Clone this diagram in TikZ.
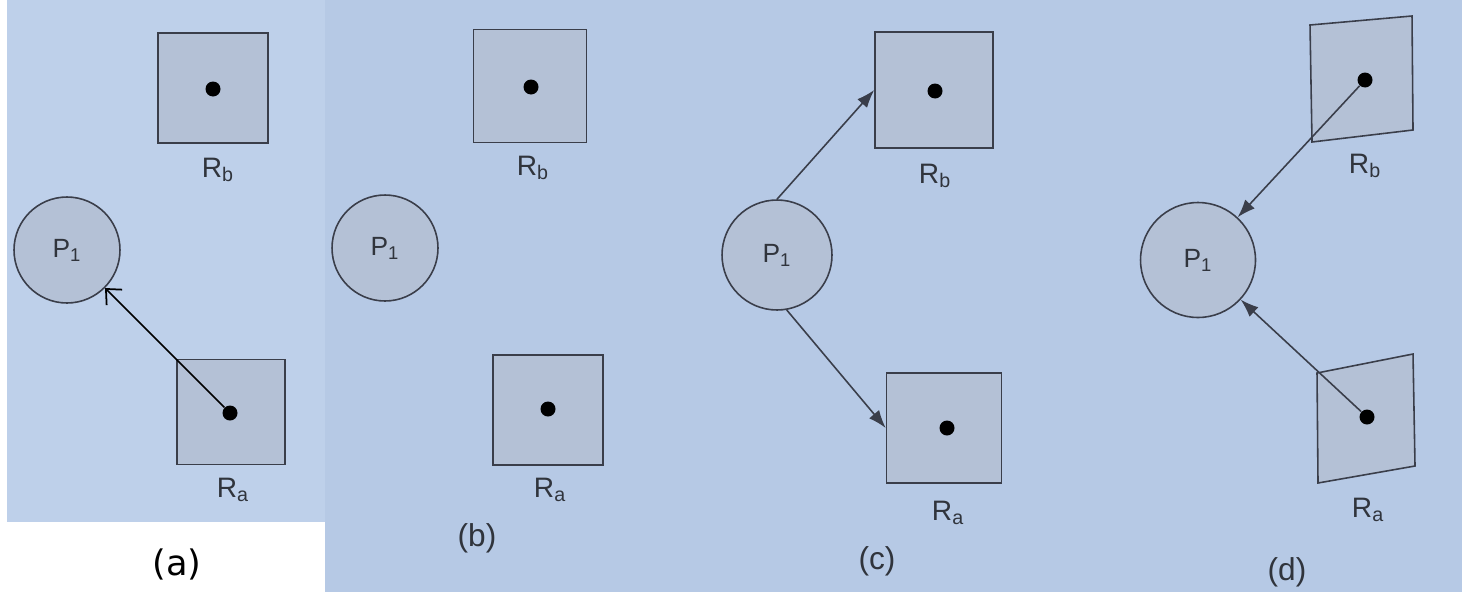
\documentclass[tikz,border=0pt]{standalone}
\usepackage{fontspec}
\setmainfont{Liberation Sans}
\newfontfamily\capfont{DejaVu Sans}
\usetikzlibrary{arrows.meta}

\definecolor{photoa}{RGB}{190,208,234}
\definecolor{photob}{RGB}{182,201,229}
\definecolor{shade}{RGB}{180,193,214}
\definecolor{edge}{RGB}{58,62,74}
\definecolor{ink}{RGB}{48,52,60}

\begin{document}
\begin{tikzpicture}[x=0.02cm, y=-0.02cm,
  res/.style={draw=edge, fill=shade, line width=0.9pt, inner sep=0pt, minimum width=2.2cm, minimum height=2.2cm},
  proc/.style={circle, draw=edge, fill=shade, line width=0.9pt, inner sep=0pt, minimum size=2.12cm, text=ink, font=\fontsize{15}{18}\selectfont},
  inst/.style={circle, fill=black, inner sep=0pt, minimum size=0.3cm},
  rname/.style={text=ink, font=\fontsize{16}{19}\selectfont},
  panel/.style={text=ink, font=\fontsize{18}{21}\selectfont},
  hold/.style={draw=black, line width=1pt, -{Straight Barb[length=2.4mm, width=4.4mm]}},
  req/.style={draw=edge, line width=0.9pt, -{Latex[length=3.6mm, width=2.6mm]}}]
\useasboundingbox (0,0) rectangle (1462,592);
\fill[photoa] (7,0) rectangle (325,522);
\fill[photob] (325,0) rectangle (1462,592);

% (a)
\node[res] (rba) at (213,88) {};
\node[res, minimum width=2.16cm, minimum height=2.1cm] (raa) at (231,412) {};
\node[inst] (rba-i) at (213,89) {};
\node[inst] (raa-i) at (230,413) {};
\node[proc] (p1a) at (67,250) {P\textsubscript{1}};
\node[rname] (rba-l) at (218,170) {R\textsubscript{b}};
\node[rname] (raa-l) at (233,490) {R\textsubscript{a}};
\node[font=\capfont\fontsize{20}{24}\selectfont] (capa) at (177,564) {(a)};
\draw[hold] (raa-i) -- (p1a);

% (b)
\node[res, minimum width=2.26cm, minimum height=2.26cm] (rbb) at (530,86) {};
\node[res] (rab) at (548,410) {};
\node[inst] (rbb-i) at (531,87) {};
\node[inst] (rab-i) at (548,409) {};
\node[proc] (p1b) at (385,248) {P\textsubscript{1}};
\node[rname] (rbb-l) at (533,168) {R\textsubscript{b}};
\node[rname] (rab-l) at (550,490) {R\textsubscript{a}};
\node[panel] (capb) at (477,538) {(b)};

% (c)
\node[res, minimum width=2.36cm, minimum height=2.32cm] (rbc) at (934,90) {};
\node[res, minimum width=2.3cm] (rac) at (944,428) {};
\node[inst] (rbc-i) at (935,91) {};
\node[inst] (rac-i) at (947,428) {};
\node[proc, minimum size=2.2cm] (p1c) at (777,255) {P\textsubscript{1}};
\node[rname] (rbc-l) at (935,176) {R\textsubscript{b}};
\node[rname] (rac-l) at (948,513) {R\textsubscript{a}};
\node[panel] (capc) at (877,561) {(c)};
\draw[req] (p1c.north) -- (rbc.west);
\draw[req] (p1c.-80) -- (rac.west);

% (d)
\filldraw[draw=edge, fill=shade, line width=0.9pt] (1310,25) -- (1412,16) -- (1413,130) -- (1312,142) -- cycle;
\filldraw[draw=edge, fill=shade, line width=0.9pt] (1317,373) -- (1413,354) -- (1415,466) -- (1318,483) -- cycle;
\node[inst] (rbd-i) at (1365,80) {};
\node[inst] (rad-i) at (1367,417) {};
\node[proc, minimum size=2.3cm] (p1d) at (1198,260) {P\textsubscript{1}};
\node[rname] (rbd-l) at (1365,166) {R\textsubscript{b}};
\node[rname] (rad-l) at (1368,510) {R\textsubscript{a}};
\node[panel] (capd) at (1287,572) {(d)};
\draw[req] (rbd-i) -- (p1d);
\draw[req] (rad-i) -- (p1d);
\end{tikzpicture}
\end{document}
